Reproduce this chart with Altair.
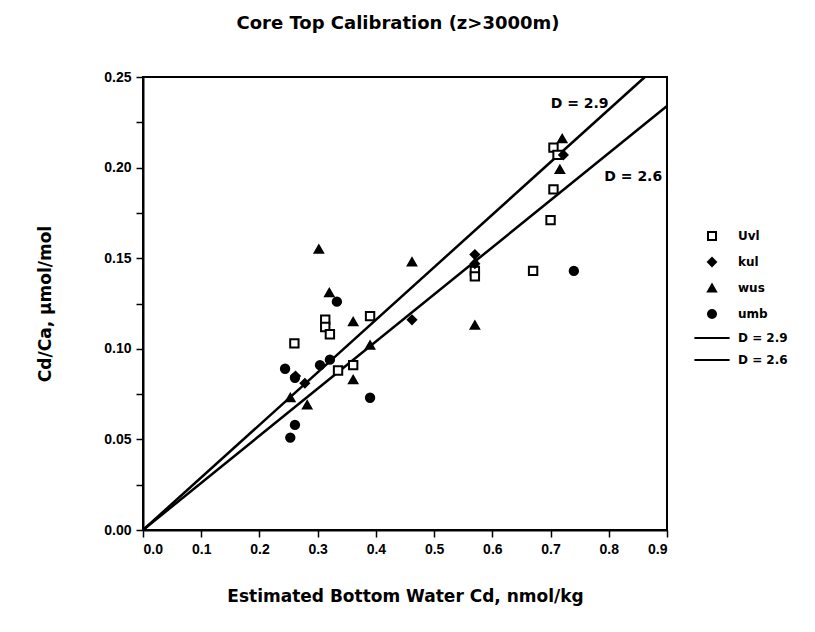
import altair as alt
import pandas as pd

# ---- data ----
uvl_x = [0.26, 0.313, 0.313, 0.321, 0.335, 0.361, 0.39, 0.57, 0.57, 0.67, 0.70, 0.705, 0.705, 0.712]
uvl_y = [0.103, 0.116, 0.112, 0.108, 0.088, 0.091, 0.118, 0.143, 0.140, 0.143, 0.171, 0.188, 0.211, 0.207]

kul_x = [0.278, 0.262, 0.462, 0.57, 0.57, 0.722]
kul_y = [0.081, 0.085, 0.116, 0.152, 0.147, 0.207]

wus_x = [0.302, 0.462, 0.32, 0.361, 0.39, 0.361, 0.57, 0.72, 0.253, 0.282, 0.716]
wus_y = [0.155, 0.148, 0.131, 0.115, 0.102, 0.083, 0.113, 0.216, 0.073, 0.069, 0.199]

umb_x = [0.333, 0.244, 0.304, 0.321, 0.261, 0.39, 0.261, 0.253, 0.74]
umb_y = [0.126, 0.089, 0.091, 0.094, 0.084, 0.073, 0.058, 0.051, 0.143]

series_names = ["Uvl", "kul", "wus", "umb", "D = 2.9", "D = 2.6"]

line29_x = [0.0, 0.862]
line29_y = [0.0, 0.25]
line26_x = [0.0, 0.9]
line26_y = [0.0, 0.234]

label_text = ["D = 2.9", "D = 2.6"]
label_x = [0.75, 0.842]
label_y = [0.235, 0.195]

x_ticks = [round(i * 0.05, 2) for i in range(19)]
y_ticks = [round(i * 0.025, 3) for i in range(11)]

# ---- tables ----
rows = []
for name, xs, ys in [("Uvl", uvl_x, uvl_y), ("kul", kul_x, kul_y),
                     ("wus", wus_x, wus_y), ("umb", umb_x, umb_y)]:
    for a, b in zip(xs, ys):
        rows.append({"x": a, "y": b, "series": name})
pts = pd.DataFrame(rows)

lines = pd.DataFrame(
    [{"x": a, "y": b, "series": "D = 2.9"} for a, b in zip(line29_x, line29_y)]
    + [{"x": a, "y": b, "series": "D = 2.6"} for a, b in zip(line26_x, line26_y)]
)
labels = pd.DataFrame({"x": label_x, "y": label_y, "t": label_text})

FONT = "Liberation Sans"
WIDE = "DejaVu Sans"
W, H = 524, 453

xscale = alt.Scale(domain=[0, 0.9], nice=False, zero=False)
yscale = alt.Scale(domain=[0, 0.25], nice=False, zero=False)

xaxis = alt.Axis(
    values=x_ticks,
    labelExpr="abs(datum.value*10 - round(datum.value*10)) < 0.001 ? format(datum.value, '.1f') : ''",
    title="Estimated Bottom Water Cd, nmol/kg",
    titlePadding=32,
    labelPadding=5,
    grid=False,
)
yaxis = alt.Axis(
    values=y_ticks,
    labelExpr="abs(datum.value*20 - round(datum.value*20)) < 0.001 ? format(datum.value, '.2f') : ''",
    title="Cd/Ca, µmol/mol",
    titlePadding=49,
    labelPadding=5,
    grid=False,
)

legend_def = alt.Legend(
    title=None,
    orient="none",
    legendX=563,
    legendY=153,
    labelFont=WIDE,
    labelFontSize=12,
    labelFontWeight="bold",
    labelColor="black",
    labelOffset=20,
    rowPadding=10,
    symbolSize=64,
    symbolStrokeWidth=2,
    symbolOpacity=1,
    padding=0,
)

points = alt.Chart(pts).mark_point(size=70, strokeWidth=2, opacity=1).encode(
    x=alt.X("x:Q", scale=xscale, axis=xaxis),
    y=alt.Y("y:Q", scale=yscale, axis=yaxis),
    color=alt.Color(
        "series:N",
        scale=alt.Scale(domain=series_names, range=["black"] * 6),
        legend=legend_def,
    ),
    shape=alt.Shape(
        "series:N",
        scale=alt.Scale(
            domain=series_names,
            range=["square", "diamond", "triangle-up", "circle", "M-4.4,0H4.4", "M-4.4,0H4.4"],
        ),
        legend=legend_def,
    ),
    fill=alt.Fill(
        "series:N",
        scale=alt.Scale(
            domain=series_names,
            range=["white", "black", "black", "black", "transparent", "transparent"],
        ),
        legend=legend_def,
    ),
)

line_layer = alt.Chart(lines).mark_line(color="black", strokeWidth=2.5).encode(
    x=alt.X("x:Q", scale=xscale),
    y=alt.Y("y:Q", scale=yscale),
    detail="series:N",
)

text_layer = alt.Chart(labels).mark_text(
    font=WIDE, fontSize=14, fontWeight="bold", color="black", align="center", baseline="middle"
).encode(
    x=alt.X("x:Q", scale=xscale),
    y=alt.Y("y:Q", scale=yscale),
    text="t:N",
)

chart = alt.layer(line_layer, points, text_layer).properties(
    width=W,
    height=H,
    background="white",
    autosize=alt.AutoSizeParams(type="none"),
    padding={"left": 143, "top": 77, "right": 148, "bottom": 102},
    title=alt.TitleParams(
        "Core Top Calibration (z>3000m)",
        font=WIDE,
        fontSize=18,
        fontWeight="bold",
        anchor="middle",
        offset=37,
        dx=-7,
        color="black",
    ),
).configure_view(
    stroke="black", strokeWidth=2
).configure_axis(
    domainColor="black",
    domainWidth=2,
    tickColor="black",
    tickWidth=1.5,
    tickSize=7,
    labelFont=FONT,
    labelFontSize=14,
    labelFontWeight="bold",
    labelColor="black",
    titleFont=WIDE,
    titleFontSize=17,
    titleFontWeight="bold",
    titleColor="black",
)

chart.save("out.html", embed_options={"renderer": "svg", "actions": False})
